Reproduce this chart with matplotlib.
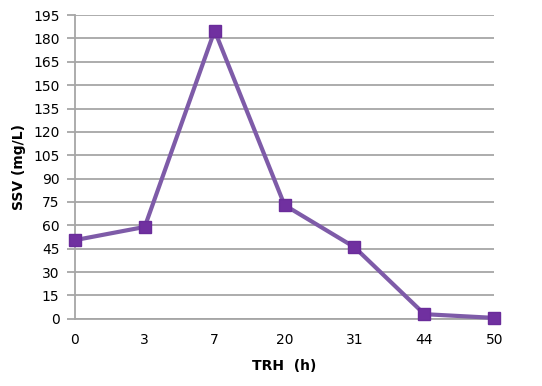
import matplotlib
matplotlib.use("Agg")
import matplotlib.pyplot as plt

trh_labels = ["0", "3", "7", "20", "31", "44", "50"]
ssv_values = [50.5, 59, 185, 73, 46, 3, 0.6]
y_ticks = list(range(0, 196, 15))

fig = plt.figure(figsize=(5.42, 3.86), dpi=100)
ax = fig.add_axes([0.138, 0.174, 0.774, 0.787])

positions = list(range(len(trh_labels)))
ax.plot(positions, ssv_values, color="#7E5BA8", linewidth=3, zorder=3, clip_on=False)
ax.plot(positions, ssv_values, linestyle="none", marker="s", markersize=9,
        color="#7030A0", markeredgecolor="#6A2C9A", zorder=4, clip_on=False)

ax.set_xlim(0, len(trh_labels) - 1)
ax.set_ylim(0, 195)
ax.set_yticks(y_ticks)
ax.set_xticks(positions)
ax.set_xticklabels(trh_labels)

ax.grid(axis="y", color="#A6A6A6", linewidth=1.3)
ax.set_axisbelow(True)
for side in ["top", "right"]:
    ax.spines[side].set_visible(False)
for side in ["left", "bottom"]:
    ax.spines[side].set_color("#A6A6A6")
    ax.spines[side].set_linewidth(1.3)

ax.tick_params(axis="y", length=6, width=1.3, color="#A6A6A6", labelsize=10, pad=5)
ax.tick_params(axis="x", length=0, labelsize=10, pad=10)

ax.set_xlabel("TRH  (h)", fontsize=10, fontweight="bold", labelpad=9)
ax.set_ylabel("SSV (mg/L)", fontsize=10, fontweight="bold", labelpad=5)

fig.savefig("out.png", dpi=100)
